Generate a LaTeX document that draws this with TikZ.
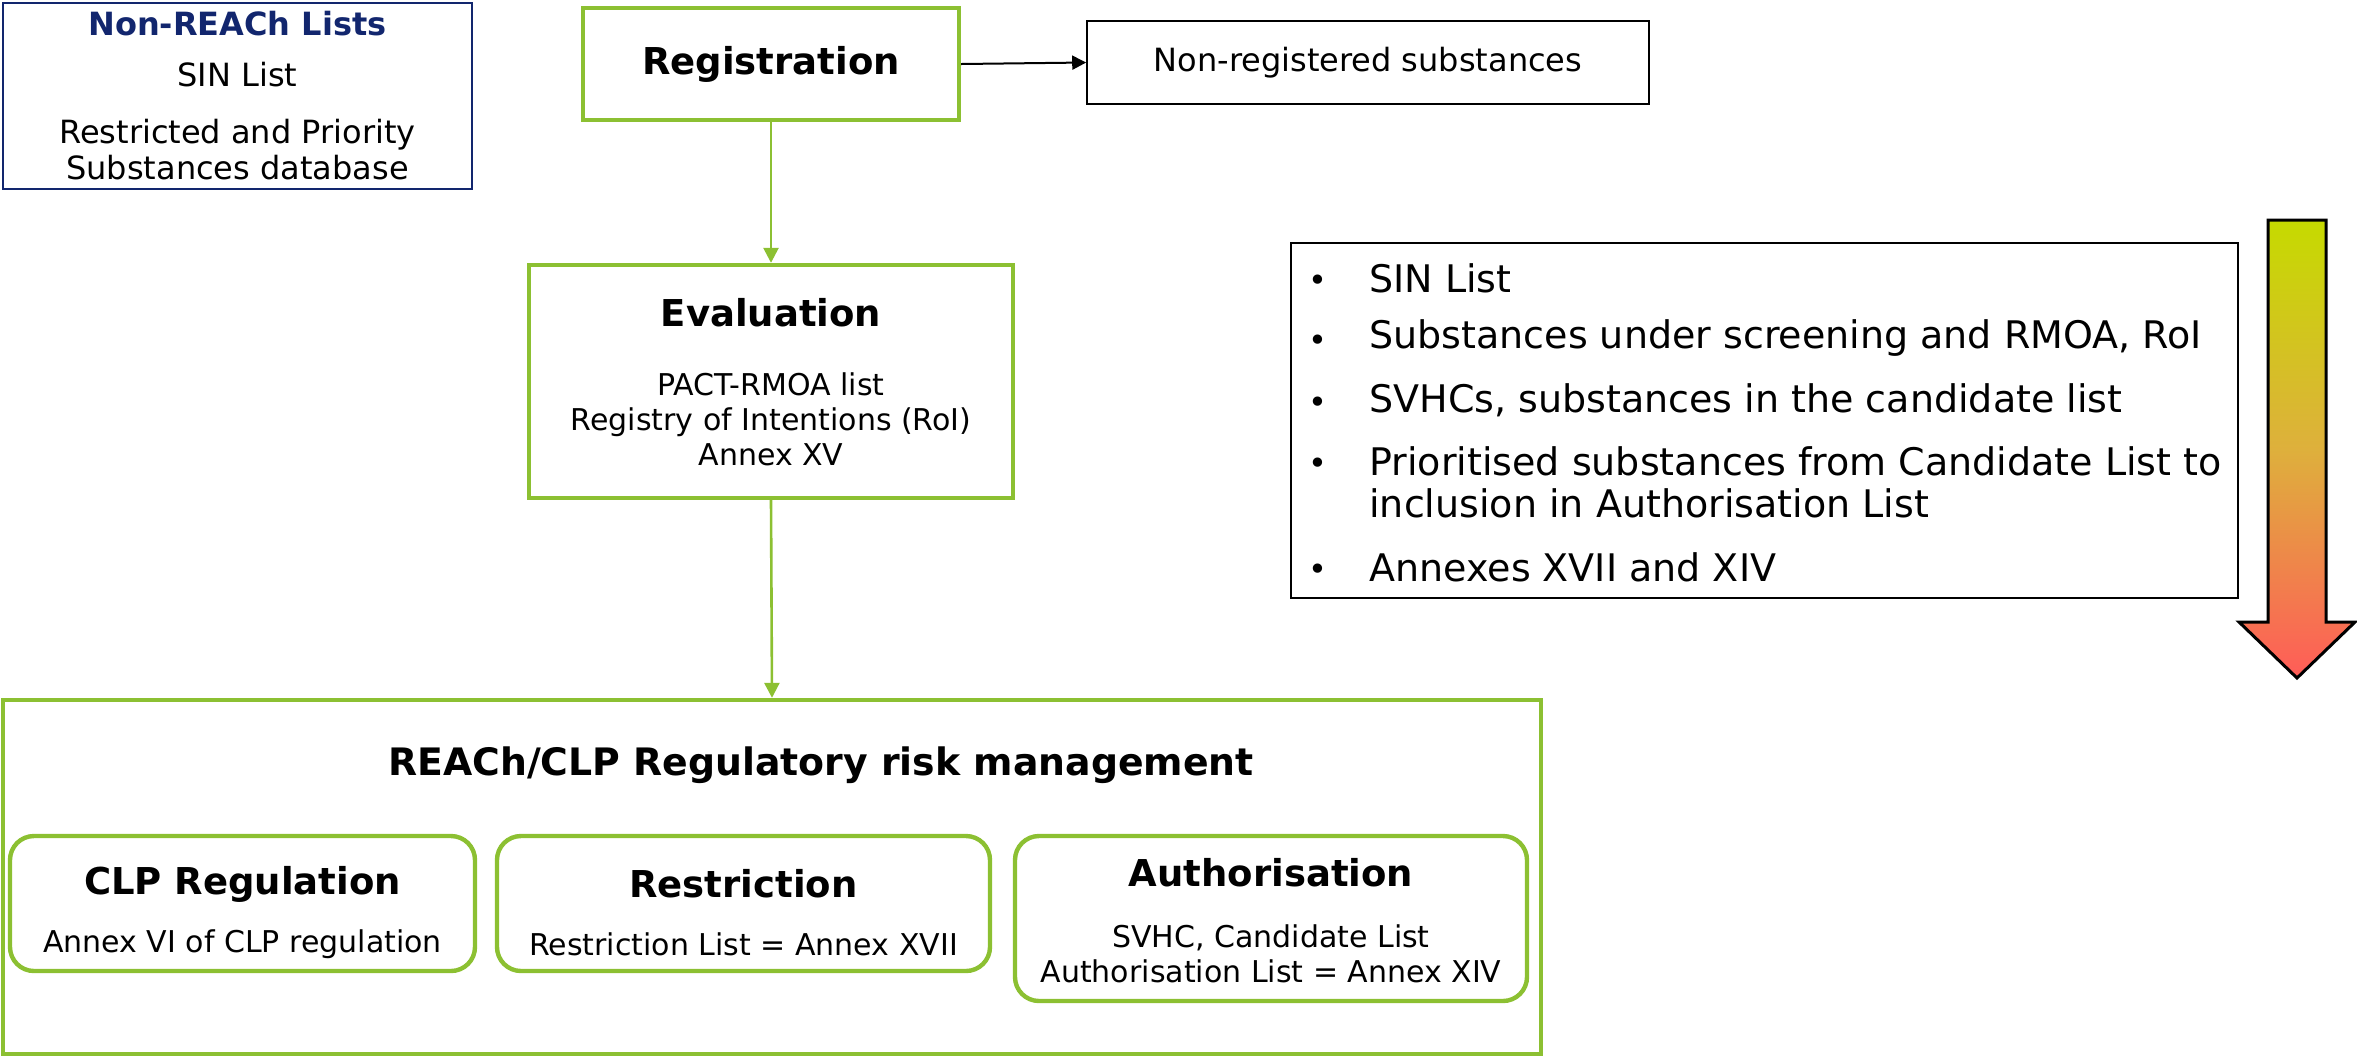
\documentclass[tikz,border=0pt]{standalone}
\usepackage{fontspec}
\setmainfont{DejaVu Sans}
\usetikzlibrary{arrows.meta}
\definecolor{leaf}{RGB}{140,192,50}
\definecolor{navy}{RGB}{18,38,110}
\definecolor{grtop}{RGB}{198,218,0}
\definecolor{grmid}{RGB}{222,176,60}
\definecolor{grbot}{RGB}{255,92,88}

\begin{document}
\begin{tikzpicture}[x=0.5pt,y=-0.5pt,
  greenbox/.style={draw=leaf,line width=2.2pt,inner sep=0pt},
  roundbox/.style={greenbox,rounded corners=12pt},
  plainbox/.style={draw=black,line width=0.8pt,inner sep=0pt},
  head/.style={font=\fontsize{18.5}{22}\bfseries\selectfont,inner sep=0pt},
  body/.style={font=\fontsize{15}{17.5}\selectfont,align=center,inner sep=0pt},
  listtext/.style={font=\fontsize{19}{21}\selectfont,align=left,anchor=west,inner sep=0pt},
  dot/.style={font=\fontsize{16}{18}\selectfont,inner sep=0pt},
  flow/.style={draw=leaf,line width=1.3pt,-{Triangle[width=7.5pt,length=7.5pt]}},
  blackflow/.style={draw=black,line width=1pt,-{Triangle[width=7pt,length=7pt]}}
]
\useasboundingbox (0,0) rectangle (2357,1057);

% non-REACh lists
\node[draw=navy,line width=0.8pt,minimum width=234.5pt,minimum height=93pt,inner sep=0pt] (nonreach) at (237.5,96) {};
\node[font=\fontsize{16}{19}\bfseries\selectfont,text=navy,inner sep=0pt] (nrtitle) at (237.5,24) {Non-REACh Lists};
\node[font=\fontsize{16}{19}\selectfont,inner sep=0pt] (nrsin) at (237.5,75) {SIN List};
\node[font=\fontsize{16}{18}\selectfont,align=center,inner sep=0pt] (nrdb) at (237.5,150) {Restricted and Priority\\Substances database};

% registration
\node[greenbox,minimum width=188pt,minimum height=56pt] (reg) at (771,64) {};
\node[head] (regtitle) at (771,64) {Registration};

\node[plainbox,minimum width=281pt,minimum height=41.5pt] (nonreg) at (1368,62.5) {};
\node[font=\fontsize{16}{19}\selectfont,inner sep=0pt] (nonregtext) at (1368,62.5) {Non-registered substances};

% evaluation
\node[greenbox,minimum width=242pt,minimum height=116.5pt] (eval) at (771,381.5) {};
\node[head] (evaltitle) at (771,313) {Evaluation};
\node[body] (evaltext) at (771,419) {PACT-RMOA list\\Registry of Intentions (RoI)\\Annex XV};

% regulatory risk management
\node[greenbox,minimum width=769pt,minimum height=177pt] (rrm) at (772,877) {};
\node[head,font=\fontsize{18.9}{22}\bfseries\selectfont] (rrmtitle) at (821,765) {REACh/CLP Regulatory risk management};

\node[roundbox,minimum width=232.5pt,minimum height=67.5pt] (clp) at (242.5,903.5) {};
\node[head] (clptitle) at (242.5,884) {CLP Regulation};
\node[body] (clptext) at (242.5,944) {Annex VI of CLP regulation};

\node[roundbox,minimum width=246.5pt,minimum height=67.5pt] (restr) at (743.5,903.5) {};
\node[head] (restrtitle) at (743.5,884) {Restriction};
\node[body] (restrtext) at (743.5,944) {Restriction List = Annex XVII};

\node[roundbox,minimum width=256pt,minimum height=82.5pt] (auth) at (1271,918.5) {};
\node[head] (authtitle) at (1271,873) {Authorisation};
\node[body] (authtext) at (1271,953.5) {SVHC, Candidate List\\Authorisation List = Annex XIV};

% connectors
\draw[flow] (reg.south) -- (eval.north);
\draw[flow] (eval.south) -- (rrm.north);
\draw[blackflow] (reg.east) -- (nonreg.west);

% list of substances
\node[plainbox,minimum width=473.5pt,minimum height=177.5pt] (listbox) at (1764.5,420.5) {};
\node[dot] (b1) at (1318,283) {•};
\node[dot] (b2) at (1318,343) {•};
\node[dot] (b3) at (1318,405) {•};
\node[dot] (b4) at (1318,466) {•};
\node[dot] (b5) at (1318,572) {•};
\node[listtext] (t1) at (1369,278) {SIN List};
\node[listtext] (t2) at (1369,338) {Substances under screening and RMOA, RoI};
\node[listtext] (t3) at (1369,400) {SVHCs, substances in the candidate list};
\node[listtext] (t4) at (1369,482) {Prioritised substances from Candidate List to\\inclusion in Authorisation List};
\node[listtext] (t5) at (1369,567) {Annexes XVII and XIV};

% gradient arrow
\shade[top color=grtop,bottom color=grbot,middle color=grmid]
  (2268,220) -- (2326,220) -- (2326,622) -- (2355,622) -- (2297,678) -- (2239,622) -- (2268,622) -- cycle;
\draw[line width=1.5pt,line join=miter]
  (2268,220) -- (2326,220) -- (2326,622) -- (2355,622) -- (2297,678) -- (2239,622) -- (2268,622) -- cycle;
\end{tikzpicture}
\end{document}
